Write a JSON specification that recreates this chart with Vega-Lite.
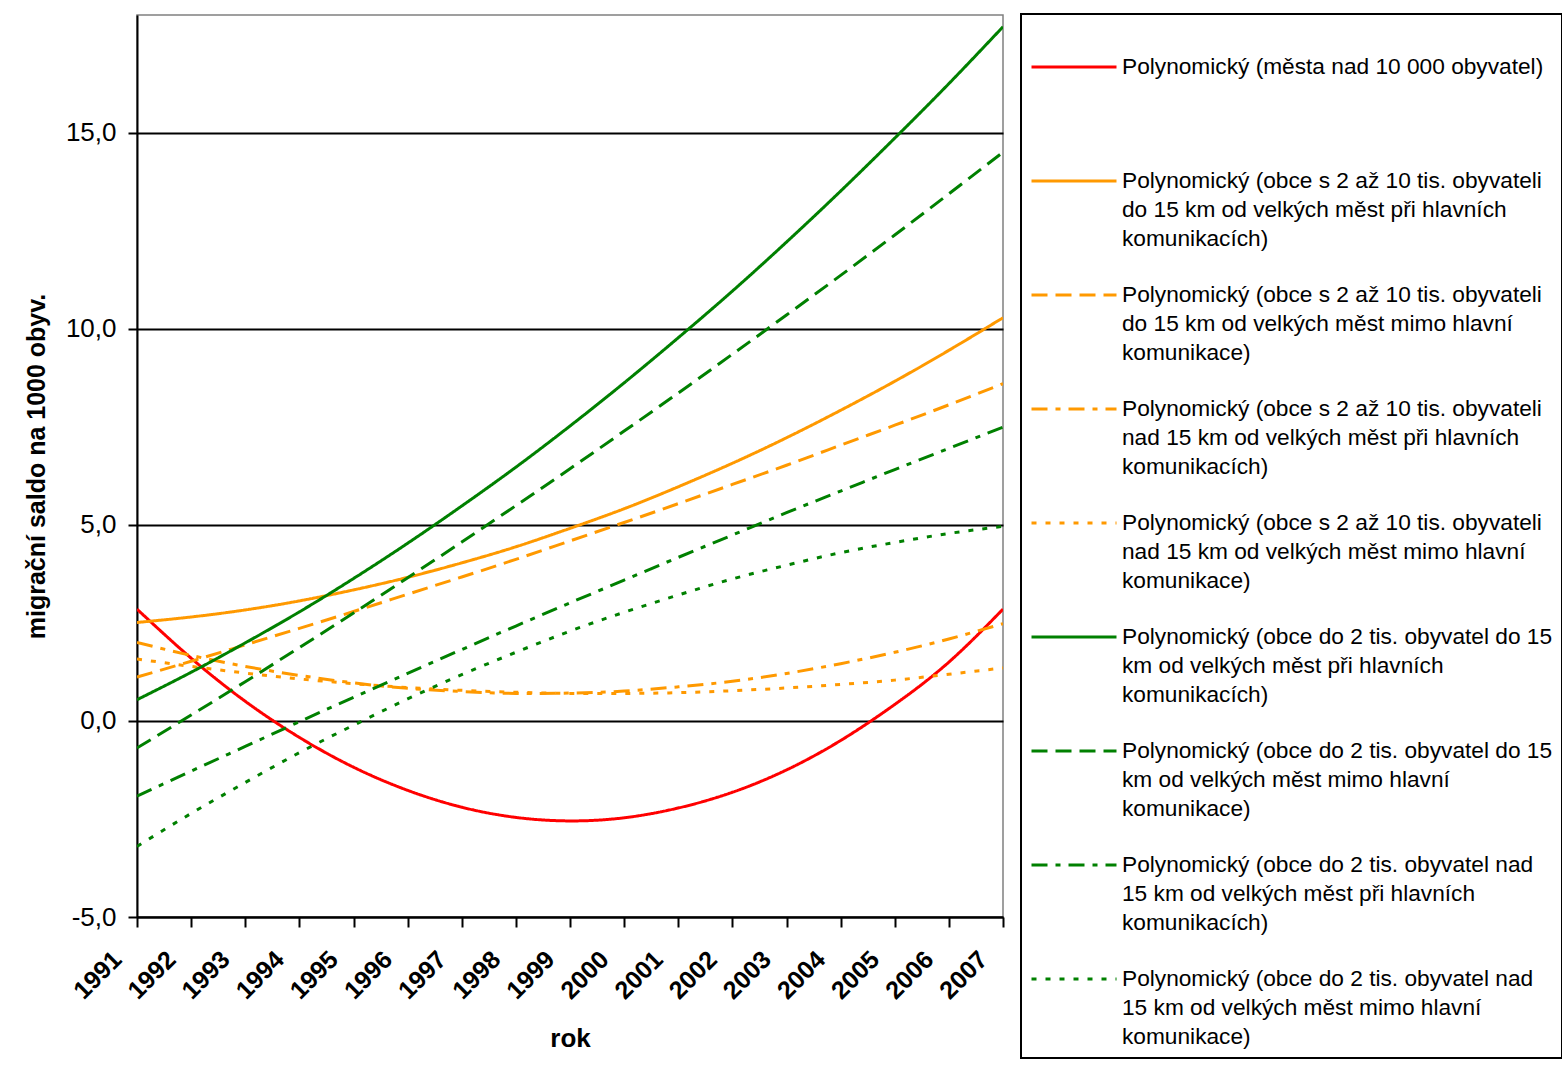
{
  "$schema": "https://vega.github.io/schema/vega-lite/v6.json",
  "autosize": {"type": "none"},
  "padding": {"left": 137, "top": 15, "right": 559, "bottom": 153},
  "width": 866,
  "height": 902,
  "background": "white",
  "datasets": {
    "trend": [
      {"year":1991,"s":"A","v":2.85},{"year":1992,"s":"A","v":1.6},{"year":1993,"s":"A","v":0.5},{"year":1994,"s":"A","v":-0.42},{"year":1995,"s":"A","v":-1.18},{"year":1996,"s":"A","v":-1.77},{"year":1997,"s":"A","v":-2.2},{"year":1998,"s":"A","v":-2.46},{"year":1999,"s":"A","v":-2.55},{"year":2000,"s":"A","v":-2.47},{"year":2001,"s":"A","v":-2.22},{"year":2002,"s":"A","v":-1.82},{"year":2003,"s":"A","v":-1.25},{"year":2004,"s":"A","v":-0.5},{"year":2005,"s":"A","v":0.42},{"year":2006,"s":"A","v":1.5},{"year":2007,"s":"A","v":2.85},
      {"year":1991,"s":"B","v":2.51},{"year":1992,"s":"B","v":2.65},{"year":1993,"s":"B","v":2.83},{"year":1994,"s":"B","v":3.06},{"year":1995,"s":"B","v":3.34},{"year":1996,"s":"B","v":3.66},{"year":1997,"s":"B","v":4.03},{"year":1998,"s":"B","v":4.44},{"year":1999,"s":"B","v":4.91},{"year":2000,"s":"B","v":5.41},{"year":2001,"s":"B","v":5.97},{"year":2002,"s":"B","v":6.57},{"year":2003,"s":"B","v":7.22},{"year":2004,"s":"B","v":7.92},{"year":2005,"s":"B","v":8.66},{"year":2006,"s":"B","v":9.45},{"year":2007,"s":"B","v":10.28},
      {"year":1991,"s":"C","v":1.12},{"year":1992,"s":"C","v":1.52},{"year":1993,"s":"C","v":1.94},{"year":1994,"s":"C","v":2.36},{"year":1995,"s":"C","v":2.79},{"year":1996,"s":"C","v":3.23},{"year":1997,"s":"C","v":3.67},{"year":1998,"s":"C","v":4.12},{"year":1999,"s":"C","v":4.59},{"year":2000,"s":"C","v":5.06},{"year":2001,"s":"C","v":5.54},{"year":2002,"s":"C","v":6.03},{"year":2003,"s":"C","v":6.52},{"year":2004,"s":"C","v":7.03},{"year":2005,"s":"C","v":7.54},{"year":2006,"s":"C","v":8.06},{"year":2007,"s":"C","v":8.6},
      {"year":1991,"s":"D","v":2.0},{"year":1992,"s":"D","v":1.67},{"year":1993,"s":"D","v":1.39},{"year":1994,"s":"D","v":1.16},{"year":1995,"s":"D","v":0.97},{"year":1996,"s":"D","v":0.83},{"year":1997,"s":"D","v":0.75},{"year":1998,"s":"D","v":0.7},{"year":1999,"s":"D","v":0.71},{"year":2000,"s":"D","v":0.76},{"year":2001,"s":"D","v":0.87},{"year":2002,"s":"D","v":1.01},{"year":2003,"s":"D","v":1.21},{"year":2004,"s":"D","v":1.46},{"year":2005,"s":"D","v":1.75},{"year":2006,"s":"D","v":2.09},{"year":2007,"s":"D","v":2.48},
      {"year":1991,"s":"E","v":1.58},{"year":1992,"s":"E","v":1.39},{"year":1993,"s":"E","v":1.22},{"year":1994,"s":"E","v":1.07},{"year":1995,"s":"E","v":0.95},{"year":1996,"s":"E","v":0.85},{"year":1997,"s":"E","v":0.78},{"year":1998,"s":"E","v":0.73},{"year":1999,"s":"E","v":0.7},{"year":2000,"s":"E","v":0.7},{"year":2001,"s":"E","v":0.72},{"year":2002,"s":"E","v":0.77},{"year":2003,"s":"E","v":0.84},{"year":2004,"s":"E","v":0.93},{"year":2005,"s":"E","v":1.04},{"year":2006,"s":"E","v":1.19},{"year":2007,"s":"E","v":1.35},
      {"year":1991,"s":"F","v":0.54},{"year":1992,"s":"F","v":1.24},{"year":1993,"s":"F","v":1.99},{"year":1994,"s":"F","v":2.78},{"year":1995,"s":"F","v":3.63},{"year":1996,"s":"F","v":4.53},{"year":1997,"s":"F","v":5.48},{"year":1998,"s":"F","v":6.47},{"year":1999,"s":"F","v":7.52},{"year":2000,"s":"F","v":8.62},{"year":2001,"s":"F","v":9.77},{"year":2002,"s":"F","v":10.96},{"year":2003,"s":"F","v":12.21},{"year":2004,"s":"F","v":13.51},{"year":2005,"s":"F","v":14.86},{"year":2006,"s":"F","v":16.25},{"year":2007,"s":"F","v":17.7},
      {"year":1991,"s":"G","v":-0.69},{"year":1992,"s":"G","v":0.15},{"year":1993,"s":"G","v":1.0},{"year":1994,"s":"G","v":1.87},{"year":1995,"s":"G","v":2.75},{"year":1996,"s":"G","v":3.65},{"year":1997,"s":"G","v":4.56},{"year":1998,"s":"G","v":5.49},{"year":1999,"s":"G","v":6.43},{"year":2000,"s":"G","v":7.39},{"year":2001,"s":"G","v":8.36},{"year":2002,"s":"G","v":9.35},{"year":2003,"s":"G","v":10.35},{"year":2004,"s":"G","v":11.36},{"year":2005,"s":"G","v":12.39},{"year":2006,"s":"G","v":13.44},{"year":2007,"s":"G","v":14.5},
      {"year":1991,"s":"H","v":-1.92},{"year":1992,"s":"H","v":-1.28},{"year":1993,"s":"H","v":-0.65},{"year":1994,"s":"H","v":-0.02},{"year":1995,"s":"H","v":0.6},{"year":1996,"s":"H","v":1.21},{"year":1997,"s":"H","v":1.82},{"year":1998,"s":"H","v":2.42},{"year":1999,"s":"H","v":3.01},{"year":2000,"s":"H","v":3.59},{"year":2001,"s":"H","v":4.17},{"year":2002,"s":"H","v":4.74},{"year":2003,"s":"H","v":5.31},{"year":2004,"s":"H","v":5.86},{"year":2005,"s":"H","v":6.41},{"year":2006,"s":"H","v":6.95},{"year":2007,"s":"H","v":7.49},
      {"year":1991,"s":"I","v":-3.2},{"year":1992,"s":"I","v":-2.36},{"year":1993,"s":"I","v":-1.57},{"year":1994,"s":"I","v":-0.81},{"year":1995,"s":"I","v":-0.11},{"year":1996,"s":"I","v":0.56},{"year":1997,"s":"I","v":1.18},{"year":1998,"s":"I","v":1.75},{"year":1999,"s":"I","v":2.29},{"year":2000,"s":"I","v":2.77},{"year":2001,"s":"I","v":3.21},{"year":2002,"s":"I","v":3.62},{"year":2003,"s":"I","v":3.97},{"year":2004,"s":"I","v":4.29},{"year":2005,"s":"I","v":4.55},{"year":2006,"s":"I","v":4.78},{"year":2007,"s":"I","v":4.96}
    ]
  },
  "data": {"name": "trend"},
  "mark": {"type": "line", "strokeWidth": 3, "clip": true, "interpolate": "natural"},
  "encoding": {
    "x": {
      "field": "year", "type": "quantitative",
      "scale": {"domain": [1991, 2007], "nice": false, "zero": false},
      "axis": {
        "values": [1991,1992,1993,1994,1995,1996,1997,1998,1999,2000,2001,2002,2003,2004,2005,2006,2007],
        "format": "d", "labelAngle": -45, "labelAlign": "right", "labelBaseline": "middle",
        "labelFontSize": 25, "labelFontWeight": "bold", "labelPadding": 28, "labelOffset": -20,
        "labelFlush": false, "labelOverlap": false,
        "tickSize": 10, "tickWidth": 2, "domainWidth": 2, "grid": false,
        "title": "rok", "titleFontSize": 26, "titleFontWeight": "bold", "titlePadding": 22
      }
    },
    "y": {
      "field": "v", "type": "quantitative",
      "scale": {"domain": [-5, 18], "nice": false, "zero": false},
      "axis": {
        "values": [-5, 0, 5, 10, 15],
        "labelExpr": "datum.value < 0 ? '-' + replace(format(-datum.value, '.1f'), '.', ',') : replace(format(datum.value, '.1f'), '.', ',')",
        "labelFontSize": 26, "labelPadding": 12, "tickSize": 9, "tickWidth": 2, "domainWidth": 2,
        "grid": true, "gridColor": "black", "gridWidth": 1.8, "gridOpacity": 1,
        "title": "migrační saldo na 1000 obyv.", "titleFontSize": 25, "titleFontWeight": "bold", "titlePadding": 16
      }
    },
    "color": {
      "field": "s", "type": "nominal",
      "scale": {"domain": ["A","B","C","D","E","F","G","H","I"], "range": ["#ff0000","#ff9900","#ff9900","#ff9900","#ff9900","#008000","#008000","#008000","#008000"]},
      "legend": {
        "title": null,
        "labelExpr": "datum.label === 'A' ? ['Polynomický (města nad 10 000 obyvatel)', '', ''] : datum.label === 'B' ? ['Polynomický (obce s 2 až 10 tis. obyvateli', 'do 15 km od velkých měst při hlavních', 'komunikacích)'] : datum.label === 'C' ? ['Polynomický (obce s 2 až 10 tis. obyvateli', 'do 15 km od velkých měst mimo hlavní', 'komunikace)'] : datum.label === 'D' ? ['Polynomický (obce s 2 až 10 tis. obyvateli', 'nad 15 km od velkých měst při hlavních', 'komunikacích)'] : datum.label === 'E' ? ['Polynomický (obce s 2 až 10 tis. obyvateli', 'nad 15 km od velkých měst mimo hlavní', 'komunikace)'] : datum.label === 'F' ? ['Polynomický (obce do 2 tis. obyvatel do 15', 'km od velkých měst při hlavních', 'komunikacích)'] : datum.label === 'G' ? ['Polynomický (obce do 2 tis. obyvatel do 15', 'km od velkých měst mimo hlavní', 'komunikace)'] : datum.label === 'H' ? ['Polynomický (obce do 2 tis. obyvatel nad', '15 km od velkých měst při hlavních', 'komunikacích)'] : ['Polynomický (obce do 2 tis. obyvatel nad', '15 km od velkých měst mimo hlavní', 'komunikace)']"
      }
    },
    "strokeDash": {
      "field": "s", "type": "nominal",
      "scale": {"domain": ["A","B","C","D","E","F","G","H","I"], "range": [[1,0],[1,0],[16,8],[16,8,5,8],[5,9],[1,0],[16,8],[16,8,5,8],[5,9]]},
      "legend": {
        "title": null,
        "labelExpr": "datum.label === 'A' ? ['Polynomický (města nad 10 000 obyvatel)', '', ''] : datum.label === 'B' ? ['Polynomický (obce s 2 až 10 tis. obyvateli', 'do 15 km od velkých měst při hlavních', 'komunikacích)'] : datum.label === 'C' ? ['Polynomický (obce s 2 až 10 tis. obyvateli', 'do 15 km od velkých měst mimo hlavní', 'komunikace)'] : datum.label === 'D' ? ['Polynomický (obce s 2 až 10 tis. obyvateli', 'nad 15 km od velkých měst při hlavních', 'komunikacích)'] : datum.label === 'E' ? ['Polynomický (obce s 2 až 10 tis. obyvateli', 'nad 15 km od velkých měst mimo hlavní', 'komunikace)'] : datum.label === 'F' ? ['Polynomický (obce do 2 tis. obyvatel do 15', 'km od velkých měst při hlavních', 'komunikacích)'] : datum.label === 'G' ? ['Polynomický (obce do 2 tis. obyvatel do 15', 'km od velkých měst mimo hlavní', 'komunikace)'] : datum.label === 'H' ? ['Polynomický (obce do 2 tis. obyvatel nad', '15 km od velkých měst při hlavních', 'komunikacích)'] : ['Polynomický (obce do 2 tis. obyvatel nad', '15 km od velkých měst mimo hlavní', 'komunikace)']"
      }
    }
  },
  "config": {
    "font": "Liberation Sans",
    "view": {"stroke": "#808080", "strokeWidth": 1.5},
    "axis": {
      "labelFont": "Liberation Sans", "titleFont": "Liberation Sans",
      "labelColor": "black", "titleColor": "black", "domainColor": "black", "tickColor": "black"
    },
    "style": {"guide-label": {"lineHeight": 29}},
    "legend": {
      "orient": "none", "legendX": 884, "legendY": -1, "direction": "vertical",
      "strokeColor": "black", "strokeWidth": 2, "fillColor": "white", "padding": 9,
      "symbolType": "stroke", "symbolSize": 7225, "symbolStrokeWidth": 3,
      "labelFont": "Liberation Sans", "labelFontSize": 22.7, "labelColor": "black",
      "labelLimit": 1000, "labelOffset": 4, "labelBaseline": "middle",
      "rowPadding": -1
    }
  }
}
